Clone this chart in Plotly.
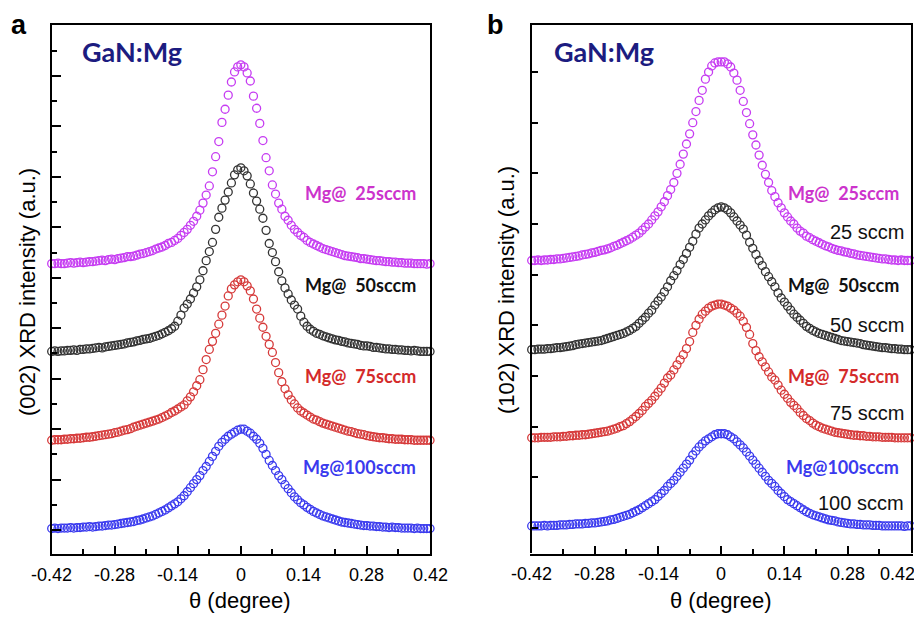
import numpy as np
import plotly.graph_objects as go

# ---------------- data ----------------
theta = np.round(np.linspace(-0.42, 0.42, 121), 3)  # degree, 0.007 step

# panel a : (002) rocking curves, intensity in a.u. (1 y-tick = 50)
a_25 = [1,1,1.5,1,1,1.5,2,1.5,2,2.5,2,2.5,3,3,3.5,4,4.5,4,5,5.5,5,6,6.5,7,8,8,8.5,9.5,10.5,11,
        12,13,14,15.5,16.5,17.5,19,21,22,24,26,29,32,35,39,43,48,54,61,69,78,92,107,122,141,154,168,181,191,196,
        198,
        196,190,182,167,155,140,123,106,93,79,70,61,55,48,44,39,35,32,29,27,24,22,20.5,19,17.5,16,15,14,13,12,
        11,10,9,8.5,8,7.5,7,6,6,5.5,5,4.5,4,4,3.5,3,3,2.5,2.5,2,2,1.5,1.5,1.5,1,1,1,1,0.5,1]
a_50 = [1,1.5,1,1.5,1.5,2,2,2.5,2,3,3,3.5,3.5,4,4.5,5,4.5,5.5,6,6.5,7,7.5,8,8.5,9.5,10,10.5,11.5,12,13,
        13.5,14,15,16,17,18.5,20,21.5,23.5,26,31,37,44,48,53,59,65,72,81,91,100,109,122,134,143,151,159,168,176,181,
        183,
        180,175,167,158,150,142,133,121,108,99,90,80,71,64,58,52,47,43,36,30,26,23,21,19,18,16.5,15.5,14.5,13.5,12.5,
        12,11,10.5,9.5,9,8.5,8,7,6.5,6.5,6,5,5,4.5,4,3.5,3.5,3,3,2.5,2.5,2,2,1.5,2,1.5,1,1,1,1]
a_75 = [1,1.5,1.5,1.5,2,2,2.5,2.5,3,3,3.5,4,4,4.5,5,5.5,6,6.5,7,7.5,8.5,9,10,11,11.5,12.5,14,15,16,17,
        18,19,20,21,22,23.5,25,26.5,28.5,30,32,34,36,40,44,49,55,61,71,81,91,99,107,116,125,134,144,151,155,158,
        160,
        158,154,149,141,131,122,113,104,96,88,78,68,59,52,46,41,37,33,30,28,26,24,22,21,19.5,18,17,16,15,14,
        13,12,11,10,9.5,8.5,7.5,7,6.5,5.5,5,4.5,4,3.5,3.5,3,2.5,2.5,2,2,2,1.5,1.5,1.5,1,1,1,1,1,1]
a_100 = [0.5,1,0.5,1,1,1,1.5,1,1.5,1.5,2,2,2.5,2,2.5,3,3,3.5,4,4,4.5,5,5.5,6,6.5,7,7.5,8.5,9,10,
         11,12,13,14.5,16,17.5,19,21,23,25,27,30,33,37,41,45,49,53,58,62,67,72,77,82,86,89,92,94,96,98,
         99,
         99,97,95,92,89,85,80,74,68,63,58,53,49,44,40,36,32,29,26,24,21.5,19.5,17.5,16,14.5,13,12,11,10,9,
         8,7,6.5,6,5.5,5,4.5,4,3.5,3.5,3,3,2.5,2.5,2,2,1.5,2,1.5,1.5,1,1,1,1,0.5,1,0.5,0.5,0.5,0.5]

# panel b : (102) rocking curves
b_25 = [1,1,1.5,1,1.5,1.5,2,2,2.5,2.5,3,3.5,4,4.5,5,5.5,6.5,7,7.5,8.5,9,10,11,11.5,12.5,13.5,15,16,17.5,19,
        20.5,22,24,26,28,31,34,37,41,45,49,54,59,65,71,78,87,96,106,116,126,137,148,159,169,180,187,193,196,197,
        197,
        197,195,192,186,179,169,158,147,136,125,115,105,95,86,78,70,64,58,53,48,44,40,37,33,30,28,25,23.5,21.5,20,
        18.5,17,15.5,14.5,13,12,11,10.5,9.5,9,8,7.5,6.5,6,5.5,5,4.5,4,3.5,3,2.5,2.5,2,1.5,1.5,1,1.5,1,1,1]
b_50 = [1,1,1.5,1.5,1.5,2,2,2.5,3,3,3.5,4,4.5,5,6,6.5,7,7.5,8,8.5,9,9.5,10,11,12,13,14,15,16,17,
        18.5,20,22,24,27,30,33,37,40,45,49,53,58,63,69,74,79,85,90,96,102,108,115,121,125,129,133,136,139,141,
        142,
        141,139,136,132,128,124,120,114,107,101,95,89,84,78,73,68,63,57,52,48,44,40,36,33,30,27,24,22,20,18.5,
        17,16,15,14,13,12,11,10,9.5,9,8.5,8,7.5,7,6,5.5,5,4.5,4,3.5,3,3,2.5,2,2,1.5,1.5,1,1,1]
b_75 = [1,1,1,1.5,1.5,1.5,1.5,2,2,2,2.5,2.5,3,3,3.5,3.5,4,4,4.5,5,5.5,6,6.5,7,7.5,8.5,9.5,10.5,12,13,
        15,17,19.5,22,25,28,32,35,38,42,46,50,55,60,63,68,73,78,83,89,96,105,112,118,123,126,129,131,132,133,
        133,
        132,131,129,127,124,121,116,110,103,94,87,81,76,71,66,61,58,53,48,44,40,36,33,30,26,23,20,18,15.5,13.5,
        12,10.5,9.5,8.5,7.5,6.5,6,5.5,5,4.5,4,3.5,3.5,3,3,2.5,2.5,2,2,2,1.5,1.5,1.5,1.5,1,1,1,1,1,1]
b_100 = [1,1,1,1,1.5,1,1.5,1.5,1.5,2,2,2,2.5,2.5,3,3,3,3.5,3.5,4,4,4.5,5,5.5,6,7,7.5,8.5,9.5,10.5,
         11.5,12.5,14,15.5,17,19,21,23,25,27,30,33,36,40,43,46,50,54,58,62,66,71,75,79,82,85,87,89,91,92,
         92,
         92,91,89,87,84,81,78,74,70,66,62,58,54,50,46,43,40,36,33,30,27,25,23,21,19,17,15,13.5,12,11,
         10,9,8,7,6.5,6,5,4.5,4,3.5,3,3,2.5,2.5,2,2,2,1.5,1.5,1.5,1,1,1,1,1,1,1,0.5,1,1]

offsets_a = [1, 88, 176, 263]      # vertical stacking of the curves (a.u.)
offsets_b = [1, 88, 175, 263]
labels = ["Mg@100sccm", "Mg@\u00a0\u00a075sccm", "Mg@\u00a0\u00a050sccm", "Mg@\u00a0\u00a025sccm"]
labels_b2 = ["100 sccm", "75 sccm", "50 sccm", "25 sccm"]
colors = ["#3a3aee", "#d63a3a", "#333333", "#c63cf2"]
text_colors = ["#3a3aee", "#d42a2a", "#111111", "#cc33cc"]
x_ticks = [-0.42, -0.28, -0.14, 0, 0.14, 0.28, 0.42]
x_ticktext = ["-0.42", "-0.28", "-0.14", "0", "0.14", "0.28", "0.42"]
x_minor = [-0.35, -0.21, -0.07, 0.07, 0.21, 0.35]

series_a = [a_100, a_75, a_50, a_25]
series_b = [b_100, b_75, b_50, b_25]
for s in series_a + series_b:
    assert len(s) == len(theta), len(s)

# ---------------- figure ----------------
# the page body has an 8px margin; keep the figure inside the window
W, H = 906, 607
OFF = 8
def PX(X):
    return (X - OFF) / W
def PY(Y):
    return 1 - (Y - OFF) / H

fig = go.Figure()
for ys, off, col in zip(series_a, offsets_a, colors):
    fig.add_trace(go.Scatter(x=theta, y=np.array(ys) + off, mode="markers", xaxis="x", yaxis="y",
                             cliponaxis=False, showlegend=False,
                             marker=dict(symbol="circle-open", size=8, color=col, line=dict(width=1.3, color=col))))
for ys, off, col in zip(series_b, offsets_b, colors):
    fig.add_trace(go.Scatter(x=theta, y=np.array(ys) + off, mode="markers", xaxis="x2", yaxis="y2",
                             cliponaxis=False, showlegend=False,
                             marker=dict(symbol="circle-open", size=8, color=col, line=dict(width=1.3, color=col))))

FONT = "Arial, Liberation Sans, sans-serif"
LATO = "Lato, Open Sans, sans-serif"

def xax(domain):
    return dict(domain=domain, range=[-0.42, 0.42], tickmode="array", tickvals=x_ticks, showticklabels=False,
                ticks="inside", ticklen=8, tickwidth=1.5, tickcolor="black",
                minor=dict(tickmode="array", tickvals=x_minor, ticks="inside", ticklen=5, tickwidth=1.5, tickcolor="black"),
                showline=True, linecolor="black", linewidth=2, mirror=True, showgrid=False, zeroline=False)

fig.update_layout(
    width=W, height=H, margin=dict(l=0, r=0, t=0, b=0, autoexpand=False),
    plot_bgcolor="white", paper_bgcolor="white",
    xaxis=xax([PX(51.7), PX(430)]),
    xaxis2=xax([PX(531.7), PX(910.7)]),
    yaxis=dict(domain=[PY(554.3), PY(25)], range=[-24, 500.5], anchor="x",
               tickmode="array", tickvals=list(range(0, 500, 50)), showticklabels=False,
               ticks="inside", ticklen=9, tickwidth=1.5, tickcolor="black",
               minor=dict(tickmode="array", tickvals=list(range(25, 500, 50)), ticks="inside", ticklen=5,
                          tickwidth=1.5, tickcolor="black"),
               showline=True, linecolor="black", linewidth=2, mirror=True, showgrid=False, zeroline=False),
    yaxis2=dict(domain=[PY(553.3), PY(22.7)], range=[-25, 498.7], anchor="x2",
                tickmode="array", tickvals=list(range(0, 500, 50)), showticklabels=False,
                ticks="inside", ticklen=6, tickwidth=1.5, tickcolor="black",
                showline=True, linecolor="black", linewidth=2, mirror=True, showgrid=False, zeroline=False),
)

ann = []
def add(text, X, Y, size, color="black", family=FONT, xanchor="center", angle=0, yanchor="middle", ypaper=None):
    ann.append(dict(text=text, x=PX(X), y=PY(Y) if ypaper is None else ypaper, xref="paper", yref="paper",
                    showarrow=False, xanchor=xanchor, yanchor=yanchor, textangle=angle,
                    font=dict(family=family, size=size, color=color)))

# panel letters sit at the very top of the page
add("<b>a</b>", 19, 0, 27, yanchor="top", ypaper=1)
add("<b>b</b>", 495, 0, 27, yanchor="top", ypaper=1)
add("<b>GaN:Mg</b>", 132, 52, 27, "#1c1c80", LATO)
add("<b>GaN:Mg</b>", 604, 52, 27, "#1c1c80", LATO)
ys_lab = [467, 376, 285, 193]
for t, c, yy in zip(labels, text_colors, ys_lab):
    add("<b>" + t + "</b>", 418, yy, 18, c, LATO, xanchor="right")
    add("<b>" + t + "</b>", 901, yy, 18, c, LATO, xanchor="right")
ys_b2 = [503, 413, 325, 232]
for t, yy in zip(labels_b2, ys_b2):
    add(t, 906, yy, 20, "#111111", FONT, xanchor="right")
# axis titles
add("(002) XRD intensity (a.u.)", 27, 292, 22, angle=-90)
add("(102) XRD intensity (a.u.)", 506, 290, 22, angle=-90)
add("\u03b8 (degree)", 240, 0, 22, yanchor="bottom", ypaper=0)
add("\u03b8 (degree)", 721, 0, 22, yanchor="bottom", ypaper=0)
# x tick labels (placed on the axes' own scales)
for xa, yl in (("x", 575), ("x2", 574)):
    for v, t in zip(x_ticks, x_ticktext):
        shift = -13 if (xa == "x2" and v == 0.42) else 0
        ann.append(dict(text=t, x=v, xref=xa, y=PY(yl), yref="paper", showarrow=False,
                        xanchor="center", yanchor="middle", xshift=shift,
                        font=dict(family=FONT, size=18, color="black")))
fig.update_layout(annotations=ann)

fig.write_html("out.html")
